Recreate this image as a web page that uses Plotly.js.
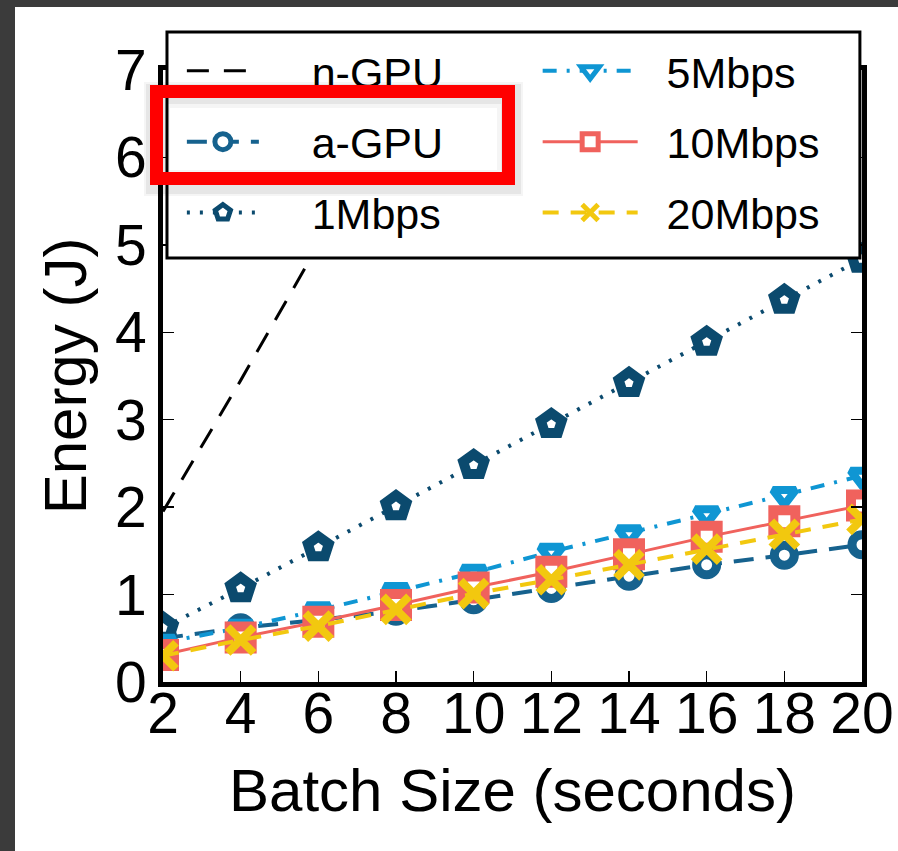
<!DOCTYPE html>
<html>
<head>
<meta charset="utf-8">
<script src="https://cdn.plot.ly/plotly-3.0.1.min.js"></script>
<style>
  html, body { margin: 0; padding: 0; background: #3b3b3b; width: 898px; height: 851px; overflow: hidden; }
  #chart { position: absolute; left: 15px; top: 7px; width: 883px; height: 844px; background: #ffffff; }
</style>
</head>
<body>
<div id="chart"></div>
<script>
// ---- data ----
const batchSizes = [2, 4, 6, 8, 10, 12, 14, 16, 18, 20];
const nGPU     = [1.95, 3.45, 5.00, 6.50, 8.00, 9.50, 11.00, 12.50, 14.00, 15.50];
const aGPU     = [0.50, 0.62, 0.71, 0.81, 0.94, 1.07, 1.21, 1.34, 1.45, 1.57];
const mbps1    = [0.62, 1.07, 1.54, 2.01, 2.48, 2.95, 3.42, 3.89, 4.37, 4.84];
const mbps5    = [0.45, 0.62, 0.82, 1.04, 1.25, 1.49, 1.70, 1.92, 2.14, 2.36];
const mbps10   = [0.31, 0.51, 0.69, 0.88, 1.08, 1.26, 1.46, 1.66, 1.84, 2.02];
const mbps20   = [0.30, 0.48, 0.64, 0.83, 1.01, 1.17, 1.34, 1.52, 1.69, 1.86];
const seriesNames = ['n-GPU', 'a-GPU', '1Mbps', '5Mbps', '10Mbps', '20Mbps'];
const xTickVals = [2, 4, 6, 8, 10, 12, 14, 16, 18, 20];
const yTickVals = [0, 1, 2, 3, 4, 5, 6, 7];
const xTitle = 'Batch Size (seconds)';
const yTitle = 'Energy (J)';

const FONT = '"Liberation Sans", Arial, sans-serif';
const C_NGPU = '#000000', C_AGPU = '#16628e', C_1M = '#0b4a6e', C_5M = '#0f96d3', C_10M = '#f0625d', C_20M = '#f2c80f';
const pad1 = '\u00a0\u00a0\u00a0\u00a0';
const pad2 = '\u00a0\u00a0';

const traces = [
  { x: batchSizes, y: nGPU, name: pad1 + seriesNames[0], mode: 'lines', legend: 'legend', legendgroup: 'g1',
    line: { color: C_NGPU, width: 3, dash: '22px,15px' } },
  { x: batchSizes, y: aGPU, name: pad1 + seriesNames[1], mode: 'lines+markers', legend: 'legend', legendgroup: 'g2',
    line: { color: C_AGPU, width: 4, dash: '20px,12px' },
    marker: { symbol: 'circle', size: 20, color: '#ffffff', line: { color: C_AGPU, width: 9 } } },
  { x: batchSizes, y: mbps1, name: pad1 + seriesNames[2], mode: 'lines+markers', legend: 'legend', legendgroup: 'g3',
    line: { color: C_1M, width: 4, dash: '3px,10px' },
    marker: { symbol: 'pentagon', size: 22, color: '#ffffff', line: { color: C_1M, width: 10 } } },
  { x: batchSizes, y: mbps5, name: pad2 + seriesNames[3], mode: 'lines+markers', legend: 'legend2', legendgroup: 'g4',
    line: { color: C_5M, width: 4, dash: '14px,10px,3px,10px' },
    marker: { symbol: 'triangle-down', size: 20, color: '#ffffff', line: { color: C_5M, width: 8 } } },
  { x: batchSizes, y: mbps10, name: pad2 + seriesNames[4], mode: 'lines+markers', legend: 'legend2', legendgroup: 'g5',
    line: { color: C_10M, width: 3 },
    marker: { symbol: 'square', size: 22, color: '#ffffff', line: { color: C_10M, width: 10 } } },
  { x: batchSizes, y: mbps20, name: pad2 + seriesNames[5], mode: 'lines+markers', legend: 'legend2', legendgroup: 'g6',
    line: { color: C_20M, width: 4, dash: '16px,12px' },
    marker: { symbol: 'x-thin', size: 26, color: C_20M, line: { color: C_20M, width: 8 } } }
];

const legendCommon = {
  font: { family: FONT, size: 43, color: '#000000' },
  bgcolor: 'rgba(0,0,0,0)', borderwidth: 0,
  orientation: 'v', xanchor: 'left', yanchor: 'top',
  tracegroupgap: 12, itemclick: false, itemdoubleclick: false
};

const layout = {
  width: 883, height: 844,
  paper_bgcolor: '#ffffff', plot_bgcolor: '#ffffff',
  margin: { l: 148, r: 36, t: 63, b: 169, pad: 0 },
  font: { family: FONT, color: '#000000' },
  showlegend: true,
  xaxis: {
    range: [2, 20], tickvals: xTickVals, ticktext: xTickVals.map(String),
    ticks: 'inside', ticklen: 11, tickwidth: 1.5, tickcolor: '#000000',
    showline: true, linewidth: 5, linecolor: '#000000', mirror: 'ticks',
    showgrid: false, zeroline: false,
    tickfont: { family: FONT, size: 57, color: '#000000' },
    ticklabelstandoff: -22,
    title: { text: xTitle, font: { family: FONT, size: 60, color: '#000000' }, standoff: 26 },
    automargin: false, fixedrange: true
  },
  yaxis: {
    range: [0, 7], tickvals: yTickVals, ticktext: yTickVals.map(String),
    ticks: 'inside', ticklen: 11, tickwidth: 1.5, tickcolor: '#000000',
    showline: true, linewidth: 5, linecolor: '#000000', mirror: 'ticks',
    showgrid: false, zeroline: false,
    tickfont: { family: FONT, size: 57, color: '#000000' },
    ticklabelstandoff: 0,
    title: { text: yTitle, font: { family: FONT, size: 60, color: '#000000' }, standoff: 10 },
    automargin: false, fixedrange: true
  },
  legend: Object.assign({}, legendCommon, { x: 0.027, y: 1.055, itemwidth: 72 }),
  legend2: Object.assign({}, legendCommon, { x: 0.536, y: 1.055, itemwidth: 95 }),
  shapes: [
    { type: 'rect', xref: 'paper', yref: 'paper', layer: 'above',
      x0: 0.0057, x1: 0.997, y0: 0.6928, y1: 1.062,
      fillcolor: '#ffffff', line: { color: '#000000', width: 3 } }
  ],
  annotations: [
    { xref: 'paper', yref: 'paper', x: 0.2445, y: 0.887, xanchor: 'center', yanchor: 'middle',
      text: ' ', showarrow: false, width: 327, height: 62, borderpad: 0,
      bordercolor: 'rgba(0,0,0,0.04)', borderwidth: 26, bgcolor: 'rgba(0,0,0,0)' },
    { xref: 'paper', yref: 'paper', x: 0.2445, y: 0.888, xanchor: 'center', yanchor: 'middle',
      text: ' ', showarrow: false, width: 335, height: 70, borderpad: 0,
      bordercolor: 'rgba(0,0,0,0.06)', borderwidth: 20, bgcolor: 'rgba(0,0,0,0)' },
    { xref: 'paper', yref: 'paper', x: 0.2425, y: 0.8938, xanchor: 'center', yanchor: 'middle',
      text: ' ', showarrow: false, width: 339, height: 74, borderpad: 0,
      bordercolor: '#ff0000', borderwidth: 13, bgcolor: 'rgba(0,0,0,0)' }
  ]
};

Plotly.newPlot('chart', traces, layout, { staticPlot: true, displayModeBar: false });
</script>
</body>
</html>
